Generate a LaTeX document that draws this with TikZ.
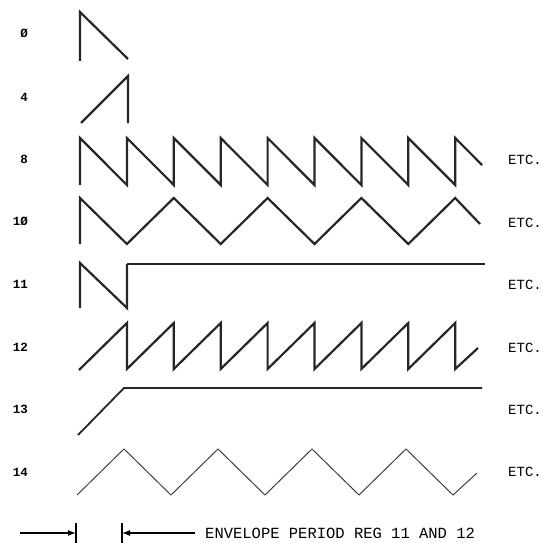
\documentclass[tikz,border=0pt]{standalone}
\usepackage{fontspec}
\setmonofont{Liberation Mono}
\usepackage{tikz}
\usetikzlibrary{arrows.meta,positioning}
\tikzset{
  WV/.style={line width=2.2pt,line join=miter,black!85},
  WT/.style={line width=1pt,black!75},
  FL/.style={line width=1.8pt,black!85},
  LB/.style={anchor=east,inner sep=0pt,font=\ttfamily\bfseries\fontsize{12.5}{14}\selectfont},
  ET/.style={anchor=west,inner sep=0pt,font=\ttfamily\fontsize{14}{16}\selectfont},
  arr/.style={-{Latex[length=8pt,width=6pt]},line width=1.2pt},
  BR/.style={line width=1.8pt}
}
\begin{document}
\begin{tikzpicture}[x=1pt,y=-1pt]
  \useasboundingbox (0,0) rectangle (543,543);

  \node[LB] (l0)  at (28,33)  {Ø};
  \node[LB] (l4)  at (28,97)  {4};
  \node[LB] (l8)  at (28,159) {8};
  \node[LB] (l10) at (28,221) {1Ø};
  \node[LB] (l11) at (28,284) {11};
  \node[LB] (l12) at (28,347) {12};
  \node[LB] (l13) at (28,409) {13};
  \node[LB] (l14) at (28,472) {14};

  \node[ET] (e8)  at (508,160) {ETC.};
  \node[ET] (e10) at (508,223) {ETC.};
  \node[ET] (e11) at (508,285) {ETC.};
  \node[ET] (e12) at (508,348) {ETC.};
  \node[ET] (e13) at (508,410) {ETC.};
  \node[ET] (e14) at (508,472) {ETC.};

  \draw[WV] (80,61)--(80,12)--(128,59);
  \draw[WV] (81,123)--(128,76)--(128,123);
  \draw[WV] (80,185) \foreach \i in {0,...,7}{--({80+46.9*\i},138)--({80+46.9*(\i+1)},185)} --(455.2,138)--(482,165);
  \draw[WV] (80,244)--(80,198) \foreach \i in {0,...,3}{--({126.9+93.8*\i},244)--({173.8+93.8*\i},198)} --(480,224);
  \draw[WV] (80,308)--(80,263)--(127,308)--(127,264);
  \draw[FL] (127,264)--(485,264);
  \draw[WV] (79,370) \foreach \i in {1,...,8}{--({80+46.9*\i},323)--({80+46.9*\i},369)} --(478,348);
  \draw[FL] (78,435)--(124,388)--(482,388);
  \draw[WT] (77,495) \foreach \i in {0,...,3}{--({124+94*\i},449)--({171+94*\i},495)} --(477,473);

  \coordinate (a0) at (20,533);
  \coordinate (a1) at (76,533);
  \coordinate (b0) at (195,533);
  \coordinate (b1) at (122,533);
  \draw[arr] (a0)--(a1);
  \draw[arr] (b0)--(b1);
  \draw[BR] (76,523)--(76,543);
  \draw[BR] (122,523)--(122,543);
  \node[anchor=west,inner sep=0pt,font=\ttfamily\fontsize{15.5}{17}\selectfont] (cap) at (205,533) {ENVELOPE PERIOD REG 11 AND 12};
\end{tikzpicture}
\end{document}
